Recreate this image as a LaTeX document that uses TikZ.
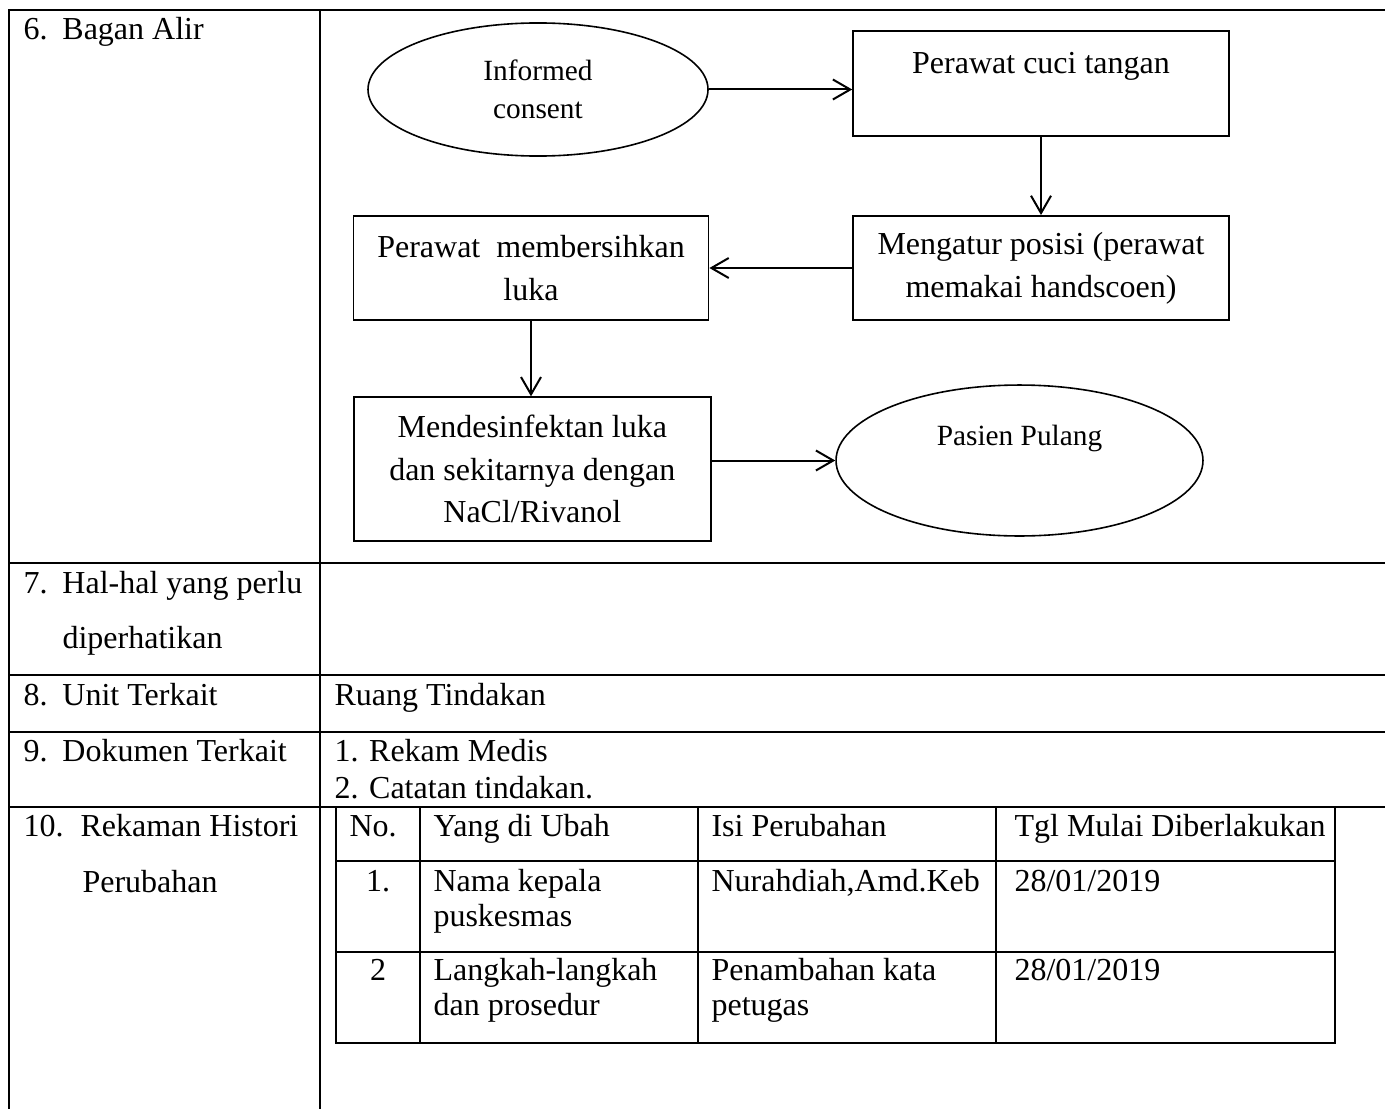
\documentclass[tikz,border=0pt]{standalone}
\usepackage{fontspec}
\setmainfont{Liberation Serif}
\usetikzlibrary{shapes.geometric,arrows.meta}

\begin{document}
\begin{tikzpicture}[x=0.375pt, y=-0.375pt,
        grid/.style={line width=0.8pt},
        cell/.style={anchor=base west, inner sep=0pt, font=\fontsize{12}{14}\selectfont},
        numcell/.style={anchor=base, inner sep=0pt, font=\fontsize{12}{14}\selectfont},
        stepbox/.style={draw, line width=0.7pt, rectangle, align=center, inner sep=0pt, font=\fontsize{12}{16}\selectfont},
        oval/.style={draw, line width=0.6pt, ellipse, align=center, inner sep=0pt, font=\fontsize{11}{16}\selectfont},
        arr/.style={line width=0.75pt, -{Straight Barb[length=6.5pt, width=7.5pt]}}]
        
        \useasboundingbox (0,0) rectangle (1385,1109);
        
        %the outer table
        \draw [grid] (1385,10) -- (9,10) -- (9,1109);
        \draw [grid] (320,10) -- (320,1109);
        \draw [grid] (9,563) -- (1385,563);
        \draw [grid] (9,675) -- (1385,675);
        \draw [grid] (9,732) -- (1385,732);
        \draw [grid] (9,807) -- (1385,807);
        
        \node [cell] (row6) at (23,40) {\makebox[14.6pt][l]{6.}Bagan Alir};
        \node [cell] (row7a) at (23,593) {\makebox[14.6pt][l]{7.}Hal-hal yang perlu};
        \node [cell] (row7b) at (62,648) {diperhatikan};
        \node [cell] (row8) at (23,705) {\makebox[14.6pt][l]{8.}Unit Terkait};
        \node [cell] (row9) at (23,761) {\makebox[14.6pt][l]{9.}Dokumen Terkait};
        \node [cell] (row10a) at (23,836) {\makebox[21.4pt][l]{10.}Rekaman Histori};
        \node [cell] (row10b) at (82,892) {Perubahan};
        
        \node [cell] (unit) at (334,705) {Ruang Tindakan};
        \node [cell] (doka) at (334,761) {1. Rekam Medis};
        \node [cell] (dokb) at (334,798) {2. Catatan tindakan.};
        
        %the flow chart
        \node [oval, minimum width=127.5pt, minimum height=49.9pt, font=\fontsize{11}{14.25}\selectfont] (consent) at (538,89.5) {Informed\\consent};
        \node [stepbox, minimum width=140.9pt, minimum height=39.4pt] (cuci) at (1041,83.5) {Perawat cuci tangan\\[-5pt] \strut};
        \node [stepbox, minimum width=140.9pt, minimum height=39pt] (posisi) at (1041,268) {Mengatur posisi (perawat\\memakai handscoen)};
        \node [stepbox, minimum width=133.1pt, minimum height=39pt] (bersih) at (531,268) {Perawat~ membersihkan\\luka};
        \node [stepbox, minimum width=134pt, minimum height=53.8pt] (desinfek) at (532.3,469) {Mendesinfektan luka\\dan sekitarnya dengan\\NaCl/Rivanol};
        \node [oval, minimum width=137.6pt, minimum height=56.6pt] (pulang) at (1019.5,460.5) {Pasien Pulang\\[-2pt] \strut};
        
        \draw [arr] (consent.east) -- (consent.east -| cuci.west);
        \draw [arr] (cuci.south) -- (posisi.north);
        \draw [arr] (posisi.west) -- (bersih.east);
        \draw [arr] (bersih.south) -- (bersih.south |- desinfek.north);
        \draw [arr] (pulang.west -| desinfek.east) -- (pulang.west);
        
        %history of changes
        \draw [grid] (336,807) rectangle (1335,1043);
        \draw [grid] (336,861) -- (1335,861);
        \draw [grid] (336,952) -- (1335,952);
        \draw [grid] (420,807) -- (420,1043);
        \draw [grid] (698,807) -- (698,1043);
        \draw [grid] (996,807) -- (996,1043);
        
        \node [cell] (hno) at (349,836) {No.};
        \node [cell] (hyang) at (433,836) {Yang di Ubah};
        \node [cell] (hisi) at (711,836) {Isi Perubahan};
        \node [cell] (htgl) at (1014,836) {Tgl Mulai Diberlakukan};
        
        \node [numcell] (ano) at (378,891) {1.};
        \node [cell] (ayanga) at (433,891) {Nama kepala};
        \node [cell] (ayangb) at (433,926) {puskesmas};
        \node [cell] (aisi) at (711,891) {Nurahdiah,Amd.Keb};
        \node [cell] (atgl) at (1014,891) {28/01/2019};
        
        \node [numcell] (bno) at (378,980) {2};
        \node [cell] (byanga) at (433,980) {Langkah-langkah};
        \node [cell] (byangb) at (433,1015) {dan prosedur};
        \node [cell] (bisia) at (711,980) {Penambahan kata};
        \node [cell] (bisib) at (711,1015) {petugas};
        \node [cell] (btgl) at (1014,980) {28/01/2019};
        
    \end{tikzpicture}
\end{document}
